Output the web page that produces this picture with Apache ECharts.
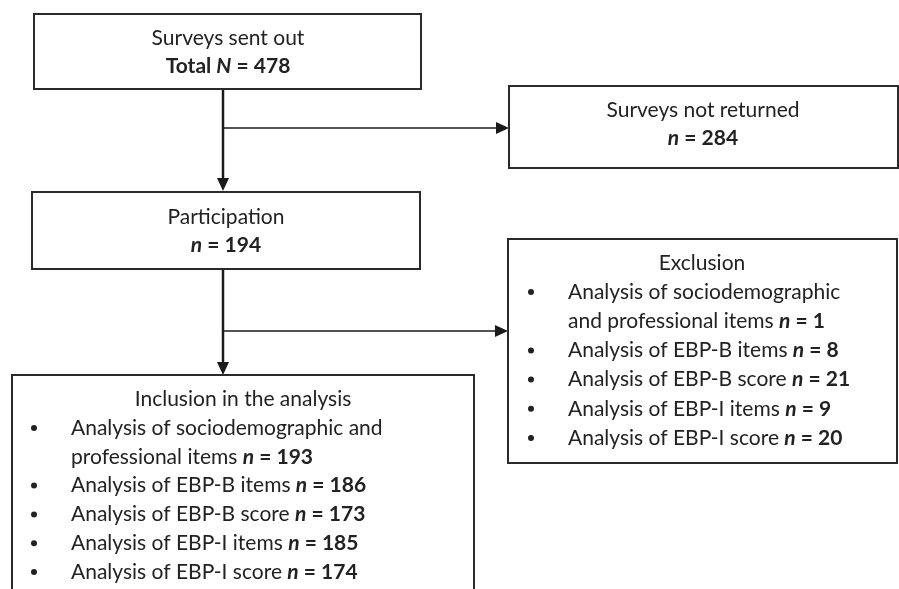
<!DOCTYPE html>
<html>
<head>
<meta charset="utf-8">
<script src="https://cdn.jsdelivr.net/npm/echarts@6/dist/echarts.min.js"></script>
<style>
  html, body { margin: 0; padding: 0; background: #fff; }
  #chart { width: 899px; height: 589px; }
</style>
</head>
<body>
<div id="chart"></div>
<script>
// flow counts
const totalSent = 478;
const notReturned = 284;
const participated = 194;

// exclusion list
const exclusionLabels = [
  "Analysis of sociodemographic\nand professional items",
  "Analysis of EBP-B items",
  "Analysis of EBP-B score",
  "Analysis of EBP-I items",
  "Analysis of EBP-I score",
];
const exclusionN = [1, 8, 21, 9, 20];

// inclusion list
const inclusionLabels = [
  "Analysis of sociodemographic and\nprofessional items",
  "Analysis of EBP-B items",
  "Analysis of EBP-B score",
  "Analysis of EBP-I items",
  "Analysis of EBP-I score",
];
const inclusionN = [193, 186, 173, 185, 174];

const FONT = "Lato, 'Open Sans', sans-serif";
const FS = 21;
const INK = "#222";
const rich = {
  r: { fontFamily: FONT, fontSize: FS, fill: INK },
  ni: { fontFamily: FONT, fontSize: FS, fill: INK, fontWeight: "bold", fontStyle: "italic" },
  b: { fontFamily: FONT, fontSize: FS, fill: INK, fontWeight: "bold" },
};

function box(x, y, w, h) {
  return {
    type: "rect",
    shape: { x: x, y: y, width: w, height: h },
    style: { fill: "#fff", stroke: "#2a2a2a", lineWidth: 2 },
  };
}
function txt(x, y, text, align) {
  return {
    type: "text",
    x: x,
    y: y,
    style: {
      text: text,
      rich: rich,
      fontFamily: FONT,
      fontSize: FS,
      fill: INK,
      textAlign: align || "center",
      textVerticalAlign: "middle",
    },
  };
}
function line(x1, y1, x2, y2, w) {
  return {
    type: "line",
    shape: { x1: x1, y1: y1, x2: x2, y2: y2 },
    style: { stroke: "#1a1a1a", lineWidth: w || 1.5 },
  };
}
function arrowDown(x, y) {
  return {
    type: "polygon",
    shape: { points: [[x - 6, y - 13], [x + 6, y - 13], [x, y]] },
    style: { fill: "#1a1a1a" },
  };
}
function arrowRight(x, y) {
  return {
    type: "polygon",
    shape: { points: [[x - 13, y - 6], [x - 13, y + 6], [x, y]] },
    style: { fill: "#1a1a1a" },
  };
}
function nPart(label, n) {
  return "{ni|" + label + "}{b| = " + n + "}";
}
function bulletList(labels, counts, bulletX, textX, y0, step) {
  const out = [];
  let y = y0;
  labels.forEach(function (lab, i) {
    const rows = lab.split("\n");
    rows.forEach(function (row, j) {
      if (j === 0) {
        out.push({
          type: "circle",
          shape: { cx: bulletX, cy: y, r: 3 },
          style: { fill: INK },
        });
      }
      let t = "{r|" + row + "}";
      if (j === rows.length - 1) t += "{r| }" + nPart("n", counts[i]);
      out.push(txt(textX, y, t, "left"));
      y += step;
    });
  });
  return out;
}

const elements = [];
// connectors
elements.push(line(223, 89, 223, 180, 2.5));
elements.push(arrowDown(223, 191));
elements.push(line(223, 128, 498, 128, 1.5));
elements.push(arrowRight(509, 128));
elements.push(line(223, 269, 223, 364, 2.5));
elements.push(arrowDown(223, 375));
elements.push(line(223, 331, 498, 331, 1.5));
elements.push(arrowRight(508, 331));

// boxes
elements.push(box(34, 14, 387, 75));
elements.push(txt(228, 38, "{r|Surveys sent out}"));
elements.push(txt(228, 66, "{b|Total }{ni|N}{b| = " + totalSent + "}"));

elements.push(box(509, 86, 389, 82));
elements.push(txt(703, 110, "{r|Surveys not returned}"));
elements.push(txt(703, 138, nPart("n", notReturned)));

elements.push(box(32, 192, 388, 77));
elements.push(txt(226, 217, "{r|Participation}"));
elements.push(txt(226, 245, nPart("n", participated)));

elements.push(box(508, 239, 389, 224));
elements.push(txt(702, 263, "{r|Exclusion}"));
bulletList(exclusionLabels, exclusionN, 531, 568, 292, 29.2).forEach(function (e) { elements.push(e); });

elements.push(box(12, 375, 462, 240));
elements.push(txt(243, 399, "{r|Inclusion in the analysis}"));
bulletList(inclusionLabels, inclusionN, 34, 71, 428, 28.8).forEach(function (e) { elements.push(e); });

const chart = echarts.init(document.getElementById("chart"));
chart.setOption({
  backgroundColor: "#fff",
  animation: false,
  graphic: { elements: elements },
});
window.onresize = function () {
  chart.resize();
};
</script>
</body>
</html>
